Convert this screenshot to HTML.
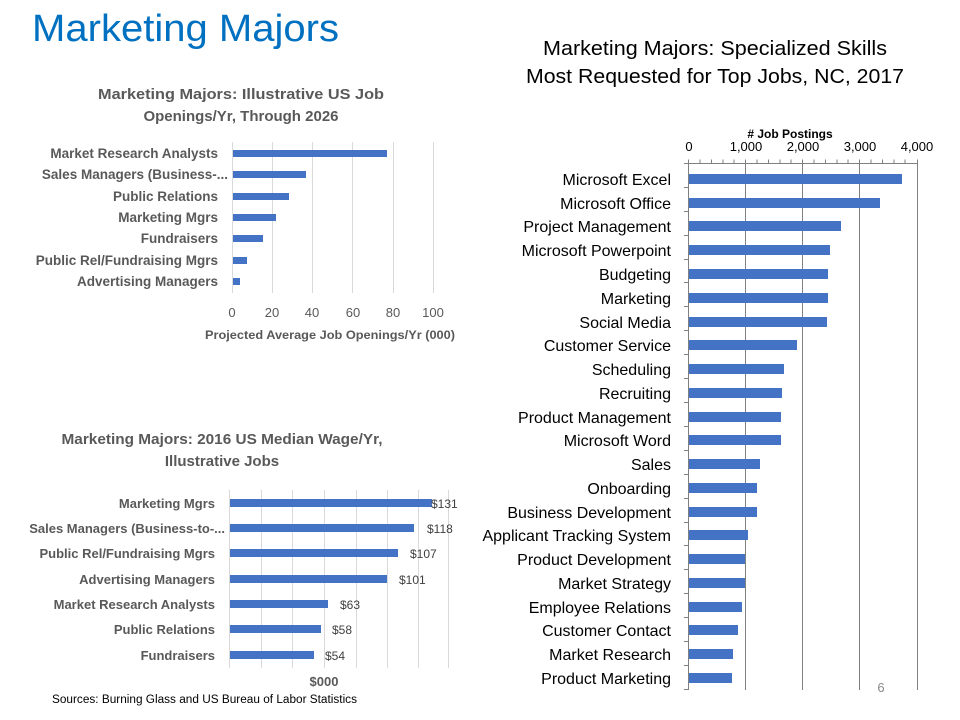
<!DOCTYPE html>
<html><head><meta charset="utf-8"><style>
html,body{margin:0;padding:0;background:#fff;}
svg{display:block;}
text{font-family:"Liberation Sans",sans-serif;}
</style></head><body>
<svg width="960" height="720" viewBox="0 0 960 720" xmlns="http://www.w3.org/2000/svg">
<rect width="960" height="720" fill="#fff"/>
<text x="32" y="41" font-size="38" fill="#0070C0" textLength="307" lengthAdjust="spacingAndGlyphs">Marketing Majors</text>

<!-- Chart 1 -->
<g fill="#595959" font-weight="bold" font-size="15" text-anchor="middle">
<text x="241" y="99" textLength="286" lengthAdjust="spacingAndGlyphs">Marketing Majors: Illustrative US Job</text>
<text x="241" y="121">Openings/Yr, Through 2026</text>
</g>
<g stroke="#d9d9d9" stroke-width="1">
<line x1="232.5" y1="142" x2="232.5" y2="293"/><line x1="272.5" y1="142" x2="272.5" y2="293"/>
<line x1="312.5" y1="142" x2="312.5" y2="293"/><line x1="352.5" y1="142" x2="352.5" y2="293"/>
<line x1="393.5" y1="142" x2="393.5" y2="293"/><line x1="433.5" y1="142" x2="433.5" y2="293"/>
</g>
<g fill="#4472C4">
<rect x="233" y="150" width="154" height="7"/>
<rect x="233" y="171" width="73" height="7"/>
<rect x="233" y="193" width="56" height="7"/>
<rect x="233" y="214" width="43" height="7"/>
<rect x="233" y="235" width="30" height="7"/>
<rect x="233" y="257" width="14" height="7"/>
<rect x="233" y="278" width="7" height="7"/>
</g>
<g fill="#595959" font-weight="bold" font-size="13.5" text-anchor="end">
<text x="218" y="158">Market Research Analysts</text>
<text x="228" y="179">Sales Managers (Business-...</text>
<text x="218" y="201">Public Relations</text>
<text x="218" y="222">Marketing Mgrs</text>
<text x="218" y="243">Fundraisers</text>
<text x="218" y="265">Public Rel/Fundraising Mgrs</text>
<text x="218" y="286">Advertising Managers</text>
</g>
<g fill="#595959" font-size="13" text-anchor="middle">
<text x="232" y="317">0</text><text x="272" y="317">20</text><text x="312" y="317">40</text>
<text x="353" y="317">60</text><text x="393" y="317">80</text><text x="433" y="317">100</text>
</g>
<text x="330" y="339" fill="#595959" font-weight="bold" font-size="11.5" text-anchor="middle" textLength="250" lengthAdjust="spacingAndGlyphs">Projected Average Job Openings/Yr (000)</text>

<!-- Chart 2 -->
<g fill="#595959" font-weight="bold" font-size="15" text-anchor="middle">
<text x="222" y="444" textLength="321" lengthAdjust="spacingAndGlyphs">Marketing Majors: 2016 US Median Wage/Yr,</text>
<text x="222" y="466">Illustrative Jobs</text>
</g>
<g stroke="#d9d9d9" stroke-width="1">
<line x1="229.5" y1="490" x2="229.5" y2="668"/><line x1="261.5" y1="490" x2="261.5" y2="668"/>
<line x1="292.5" y1="490" x2="292.5" y2="668"/><line x1="324.5" y1="490" x2="324.5" y2="668"/>
<line x1="356.5" y1="490" x2="356.5" y2="668"/><line x1="387.5" y1="490" x2="387.5" y2="668"/>
<line x1="418.5" y1="490" x2="418.5" y2="668"/><line x1="448.5" y1="490" x2="448.5" y2="668"/>
</g>
<g fill="#4472C4">
<rect x="230" y="499" width="202" height="8"/>
<rect x="230" y="524" width="184" height="8"/>
<rect x="230" y="549" width="168" height="8"/>
<rect x="230" y="575" width="157" height="8"/>
<rect x="230" y="600" width="98" height="8"/>
<rect x="230" y="625" width="91" height="8"/>
<rect x="230" y="651" width="84" height="8"/>
</g>
<g fill="#595959" font-weight="bold" font-size="13" text-anchor="end">
<text x="215" y="508">Marketing Mgrs</text>
<text x="225" y="533">Sales Managers (Business-to-...</text>
<text x="215" y="558">Public Rel/Fundraising Mgrs</text>
<text x="215" y="584">Advertising Managers</text>
<text x="215" y="609">Market Research Analysts</text>
<text x="215" y="634">Public Relations</text>
<text x="215" y="660">Fundraisers</text>
</g>
<g fill="#404040" font-size="12">
<text x="431" y="508">$131</text><text x="427" y="533">$118</text><text x="410" y="558">$107</text>
<text x="399" y="584">$101</text><text x="340" y="609">$63</text><text x="332" y="634">$58</text><text x="325" y="660">$54</text>
</g>
<text x="324" y="686" fill="#595959" font-weight="bold" font-size="13" text-anchor="middle">$000</text>
<text x="52" y="703" fill="#000" font-size="11.5" textLength="305" lengthAdjust="spacingAndGlyphs">Sources: Burning Glass and US Bureau of Labor Statistics</text>

<!-- Chart 3 -->
<g fill="#000" font-size="20" text-anchor="middle">
<text x="715" y="55" textLength="344" lengthAdjust="spacingAndGlyphs">Marketing Majors: Specialized Skills</text>
<text x="715" y="83" textLength="378" lengthAdjust="spacingAndGlyphs">Most Requested for Top Jobs, NC, 2017</text>
</g>
<text x="790" y="138" fill="#000" font-weight="bold" font-size="12" text-anchor="middle"># Job Postings</text>
<g fill="#000" font-size="13" text-anchor="middle">
<text x="689" y="151">0</text><text x="746" y="151">1,000</text><text x="803" y="151">2,000</text>
<text x="860" y="151">3,000</text><text x="917" y="151">4,000</text>
</g>
<g stroke="#808080" stroke-width="1">
<line x1="688.5" y1="163.5" x2="917.5" y2="163.5"/>
<line x1="688.5" y1="163" x2="688.5" y2="690"/>
<line x1="745.5" y1="163" x2="745.5" y2="690"/>
<line x1="802.5" y1="163" x2="802.5" y2="690"/>
<line x1="859.5" y1="163" x2="859.5" y2="690"/>
<line x1="917.5" y1="163" x2="917.5" y2="690"/>
</g>
<g stroke="#808080" stroke-width="1">
<path d="M700 159.5v4M711.5 159.5v4M723 159.5v4M734 159.5v4M757 159.5v4M768.5 159.5v4M780 159.5v4M791 159.5v4M814 159.5v4M825.5 159.5v4M837 159.5v4M848 159.5v4M871 159.5v4M882.5 159.5v4M894 159.5v4M905 159.5v4M688.5 159.5v4M745.5 159.5v4M802.5 159.5v4M859.5 159.5v4M917.5 159.5v4"/>
<path d="M684 163.5h5M684 187.5h5M684 211.5h5M684 235.5h5M684 259.5h5M684 282.5h5M684 306.5h5M684 330.5h5M684 354.5h5M684 378.5h5M684 402.5h5M684 426.5h5M684 450.5h5M684 474.5h5M684 498.5h5M684 522.5h5M684 545.5h5M684 569.5h5M684 593.5h5M684 617.5h5M684 641.5h5M684 665.5h5M684 689.5h5"/>
</g>
<g fill="#4472C4">
<rect x="689" y="174" width="213" height="10"/>
<rect x="689" y="198" width="191" height="10"/>
<rect x="689" y="221" width="152" height="10"/>
<rect x="689" y="245" width="141" height="10"/>
<rect x="689" y="269" width="139" height="10"/>
<rect x="689" y="293" width="139" height="10"/>
<rect x="689" y="317" width="138" height="10"/>
<rect x="689" y="340" width="108" height="10"/>
<rect x="689" y="364" width="95" height="10"/>
<rect x="689" y="388" width="93" height="10"/>
<rect x="689" y="412" width="92" height="10"/>
<rect x="689" y="435" width="92" height="10"/>
<rect x="689" y="459" width="71" height="10"/>
<rect x="689" y="483" width="68" height="10"/>
<rect x="689" y="507" width="68" height="10"/>
<rect x="689" y="530" width="59" height="10"/>
<rect x="689" y="554" width="56" height="10"/>
<rect x="689" y="578" width="56" height="10"/>
<rect x="689" y="602" width="53" height="10"/>
<rect x="689" y="625" width="49" height="10"/>
<rect x="689" y="649" width="44" height="10"/>
<rect x="689" y="673" width="43" height="10"/>
</g>
<g fill="#000" font-size="16" text-anchor="end">
<text x="671" y="185">Microsoft Excel</text>
<text x="671" y="209">Microsoft Office</text>
<text x="671" y="232">Project Management</text>
<text x="671" y="256">Microsoft Powerpoint</text>
<text x="671" y="280">Budgeting</text>
<text x="671" y="304">Marketing</text>
<text x="671" y="328">Social Media</text>
<text x="671" y="351">Customer Service</text>
<text x="671" y="375">Scheduling</text>
<text x="671" y="399">Recruiting</text>
<text x="671" y="423">Product Management</text>
<text x="671" y="446">Microsoft Word</text>
<text x="671" y="470">Sales</text>
<text x="671" y="494">Onboarding</text>
<text x="671" y="518">Business Development</text>
<text x="671" y="541">Applicant Tracking System</text>
<text x="671" y="565">Product Development</text>
<text x="671" y="589">Market Strategy</text>
<text x="671" y="613">Employee Relations</text>
<text x="671" y="636">Customer Contact</text>
<text x="671" y="660">Market Research</text>
<text x="671" y="684">Product Marketing</text>
</g>
<text x="881" y="692" fill="#888" font-size="13" text-anchor="middle">6</text>
</svg>
</body></html>
